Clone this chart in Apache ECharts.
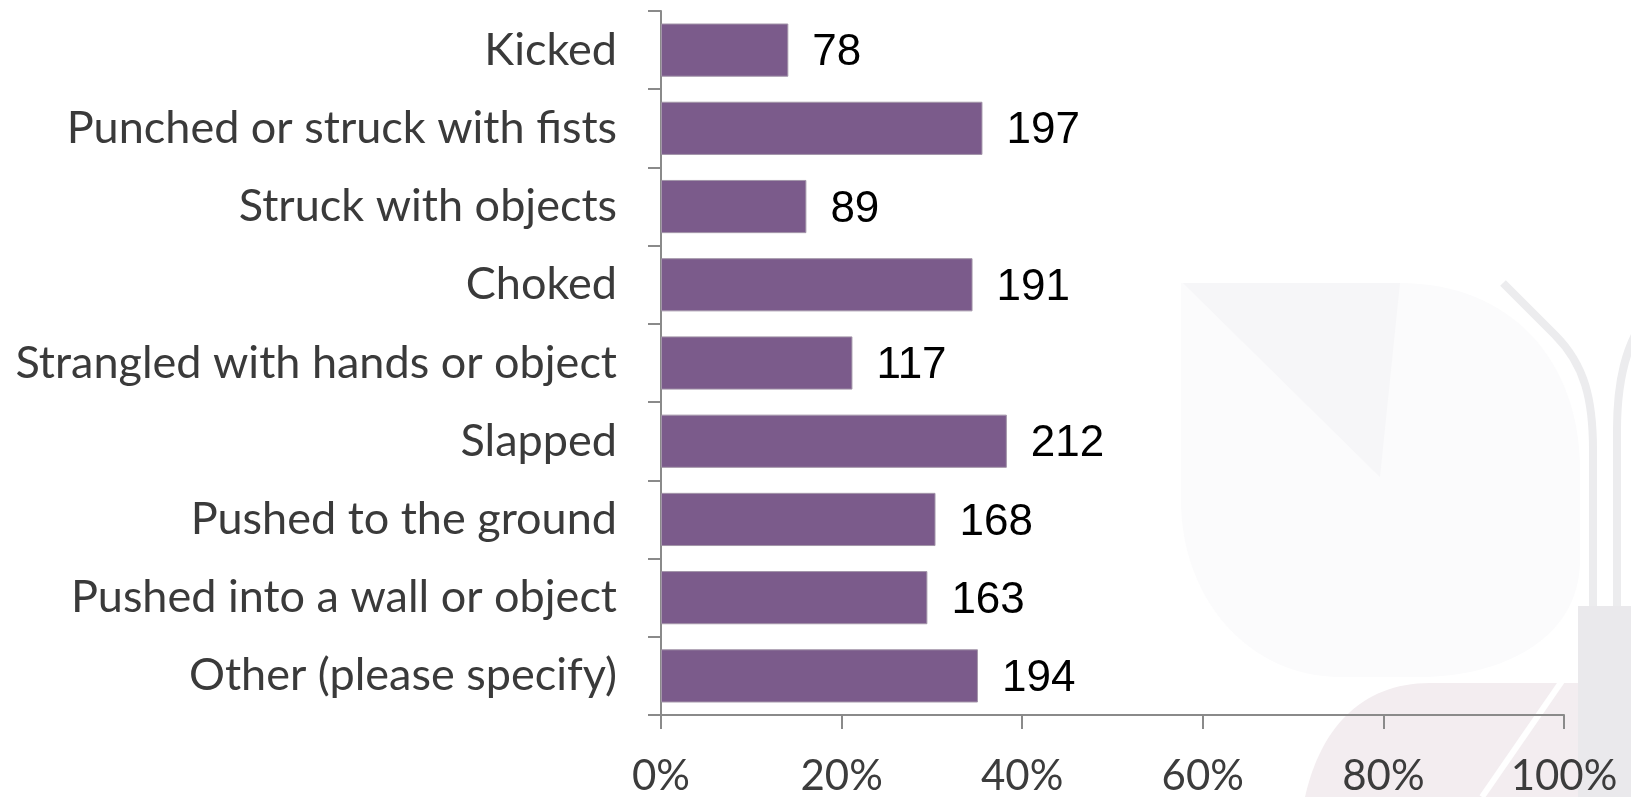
<!DOCTYPE html>
<html>
<head>
<meta charset="utf-8">
<script src="https://cdn.jsdelivr.net/npm/echarts@6/dist/echarts.min.js"></script>
<style>
  html, body { margin: 0; padding: 0; background: #fff; }
  #chart { width: 1631px; height: 797px; }
</style>
</head>
<body>
<div id="chart"></div>
<script>
// categories, top to bottom
var categories = [
    'Kicked',
    'Punched or struck with fists',
    'Struck with objects',
    'Choked',
    'Strangled with hands or object',
    'Slapped',
    'Pushed to the ground',
    'Pushed into a wall or object',
    'Other (please specify)'
];
// bar length in percent
var percents = [14.1, 35.6, 16.1, 34.5, 21.2, 38.3, 30.4, 29.5, 35.1];
// counts printed next to the bars
var counts = [78, 197, 89, 191, 117, 212, 168, 163, 194];
var xTicks = [0, 20, 40, 60, 80, 100];

var myChart = echarts.init(document.getElementById('chart'));

var labelFont = "Lato, 'Open Sans', sans-serif";

var option = {
    backgroundColor: '#ffffff',
    animation: false,
    grid: {
        left: 661,
        right: 67,
        top: 11,
        bottom: 79,
        containLabel: false
    },
    xAxis: {
        type: 'value',
        min: 0,
        max: 100,
        interval: 20,
        axisLine: { show: true, lineStyle: { color: '#8a8a8a', width: 2 } },
        axisTick: { show: true, length: 14, lineStyle: { color: '#8a8a8a', width: 2 } },
        splitLine: { show: false },
        axisLabel: {
            margin: 40,
            color: '#3c3c3c',
            fontSize: 42,
            fontFamily: labelFont,
            formatter: function (v) { return xTicks.indexOf(v) >= 0 ? v + '%' : ''; }
        }
    },
    yAxis: {
        type: 'category',
        inverse: true,
        data: categories,
        axisLine: { show: true, lineStyle: { color: '#8a8a8a', width: 2 } },
        axisTick: { show: true, length: 13, lineStyle: { color: '#8a8a8a', width: 2 } },
        axisLabel: {
            margin: 44,
            color: '#3a3a3a',
            fontSize: 45,
            fontFamily: labelFont
        }
    },
    series: [{
        type: 'bar',
        data: percents,
        barCategoryGap: '32%',
        itemStyle: {
            color: '#7b5b8b',
            borderColor: '#a395a9',
            borderWidth: 1
        },
        label: {
            show: true,
            position: 'right',
            distance: 24,
            offset: [0, 3],
            color: '#000000',
            fontSize: 44,
            fontFamily: "'Liberation Sans', Arial, sans-serif",
            formatter: function (p) { return counts[p.dataIndex]; }
        }
    }]
};

myChart.setOption(option);

// faint watermark in the lower right corner, drawn behind the chart
var zr = myChart.getZr();
var marks = [
    ['M1181,283 L1400,283 C1510,283 1580,360 1580,470 L1580,560 C1580,640 1500,677 1420,677 L1340,677 C1250,677 1181,600 1181,500 Z', { fill: '#fbfbfc' }, -10],
    ['M1183,283 L1400,283 L1380,477 Z', { fill: '#f6f6f8' }, -9],
    ['M1503,283 L1555,335 C1585,365 1593,400 1593,450 L1593,610', { fill: null, stroke: '#ececee', lineWidth: 8 }, -8],
    ['M1645,318 C1626,345 1617,380 1617,430 L1617,610', { fill: null, stroke: '#ececee', lineWidth: 8 }, -8],
    ['M1305,797 C1320,730 1360,683 1430,683 L1580,683 L1580,797 Z', { fill: '#f3edf0' }, -8],
    ['M1562,681 L1482,797', { fill: null, stroke: '#ffffff', lineWidth: 6 }, -7],
    ['M1578,606 L1640,606 L1640,800 L1578,800 Z', { fill: '#eae9ec' }, -6]
];
marks.forEach(function (m) {
    var el = echarts.graphic.makePath(m[0], { style: m[1], z: m[2], silent: true });
    zr.add(el);
});

window.onresize = function () {
    myChart.resize();
};
</script>
</body>
</html>
